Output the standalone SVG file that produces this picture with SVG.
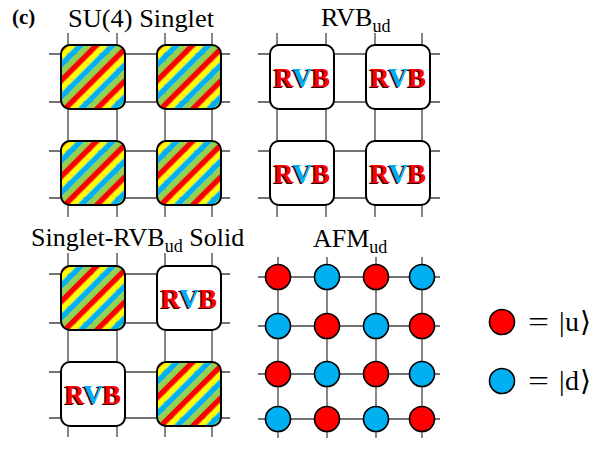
<svg xmlns="http://www.w3.org/2000/svg" width="612" height="450" viewBox="0 0 612 450">
<style>
.t{font-family:"Liberation Serif","DejaVu Serif",serif;font-size:26px;fill:#000}
.lg{font-size:28px}
.sub{font-size:18px}
.grid line{stroke:#444;stroke-width:1.3}
.box{stroke:#000;stroke-width:2}
.rvb{font-family:"Liberation Serif",serif;font-weight:bold;font-size:27px;text-anchor:middle}
.sh{fill:#300}
.r{fill:#ff0000}
.b{fill:#00b0f0}
.dot{stroke:#000;stroke-width:1.6}
</style>
<defs>
<pattern id="stripes" patternUnits="userSpaceOnUse" width="22.627" height="22.627" patternTransform="rotate(45)">
<rect x="0" y="0" width="5.657" height="22.627" fill="#ff0000"/>
<rect x="5.657" y="0" width="5.657" height="22.627" fill="#ffff00"/>
<rect x="11.314" y="0" width="5.657" height="22.627" fill="#00b0f0"/>
<rect x="16.971" y="0" width="5.657" height="22.627" fill="#92d050"/>
</pattern>
<g id="sbox"><rect class="box" x="0" y="0" width="64" height="64" rx="9" fill="url(#stripes)"/></g>
<g id="rbox"><rect class="box" x="0" y="0" width="64" height="64" rx="9" fill="#fff"/>
<text class="rvb sh" x="30.6" y="42.5">RVB</text>
<text class="rvb" x="32" y="42"><tspan class="r">R</tspan><tspan class="b">V</tspan><tspan class="r">B</tspan></text></g>
</defs>
<rect width="612" height="450" fill="#fff"/>

<g id="labels">
<text x="12" y="24" font-family="Liberation Serif,serif" font-weight="bold" font-size="21">(c)</text>
<text class="t" x="68" y="27" textLength="146" lengthAdjust="spacingAndGlyphs">SU(4) Singlet</text>
<text class="t" x="321" y="26">RVB<tspan class="sub" dy="6">ud</tspan></text>
<text class="t" x="31" y="246">Singlet-RVB<tspan class="sub" dy="6">ud</tspan><tspan dy="-6"> Solid</tspan></text>
<text class="t" x="313" y="247">AFM<tspan class="sub" dy="6">ud</tspan></text>
</g>

<g id="connectors" class="grid">
<line x1="49" y1="54" x2="230" y2="54"/><line x1="49" y1="102" x2="230" y2="102"/>
<line x1="49" y1="151" x2="230" y2="151"/><line x1="49" y1="198" x2="230" y2="198"/>
<line x1="68" y1="33" x2="68" y2="217"/><line x1="117" y1="33" x2="117" y2="217"/>
<line x1="165" y1="33" x2="165" y2="217"/><line x1="212" y1="33" x2="212" y2="217"/>
<line x1="258" y1="54" x2="440" y2="54"/><line x1="258" y1="102" x2="440" y2="102"/>
<line x1="258" y1="151" x2="440" y2="151"/><line x1="258" y1="198" x2="440" y2="198"/>
<line x1="277" y1="33" x2="277" y2="217"/><line x1="326" y1="33" x2="326" y2="217"/>
<line x1="375" y1="33" x2="375" y2="217"/><line x1="422" y1="33" x2="422" y2="217"/>
<line x1="49" y1="274" x2="230" y2="274"/><line x1="49" y1="323" x2="230" y2="323"/>
<line x1="49" y1="372" x2="230" y2="372"/><line x1="49" y1="418" x2="230" y2="418"/>
<line x1="68" y1="253" x2="68" y2="437"/><line x1="117" y1="253" x2="117" y2="437"/>
<line x1="165" y1="253" x2="165" y2="437"/><line x1="212" y1="253" x2="212" y2="437"/>
<line x1="258" y1="277" x2="440" y2="277"/><line x1="258" y1="326" x2="440" y2="326"/>
<line x1="258" y1="374" x2="440" y2="374"/><line x1="258" y1="419" x2="440" y2="419"/>
<line x1="278" y1="257" x2="278" y2="438"/><line x1="327" y1="257" x2="327" y2="438"/>
<line x1="376" y1="257" x2="376" y2="438"/><line x1="422" y1="257" x2="422" y2="438"/>
</g>

<g id="su4-1"><use href="#sbox" transform="translate(61,45)"/></g>
<g id="su4-2"><use href="#sbox" transform="translate(157,45)"/></g>
<g id="su4-3"><use href="#sbox" transform="translate(61,141)"/></g>
<g id="su4-4"><use href="#sbox" transform="translate(157,141)"/></g>

<g id="rvb-1"><use href="#rbox" transform="translate(270,45)"/></g>
<g id="rvb-2"><use href="#rbox" transform="translate(366,45)"/></g>
<g id="rvb-3"><use href="#rbox" transform="translate(270,141)"/></g>
<g id="rvb-4"><use href="#rbox" transform="translate(366,141)"/></g>

<g id="solid-1"><use href="#sbox" transform="translate(61,266)"/></g>
<g id="solid-2"><use href="#rbox" transform="translate(157,266)"/></g>
<g id="solid-3"><use href="#rbox" transform="translate(61,362)"/></g>
<g id="solid-4"><use href="#sbox" transform="translate(157,362)"/></g>

<g id="afm">
<circle class="dot r" cx="278" cy="277" r="12.5"/><circle class="dot b" cx="327" cy="277" r="12.5"/>
<circle class="dot r" cx="376" cy="277" r="12.5"/><circle class="dot b" cx="422" cy="277" r="12.5"/>
<circle class="dot b" cx="278" cy="326" r="12.5"/><circle class="dot r" cx="327" cy="326" r="12.5"/>
<circle class="dot b" cx="376" cy="326" r="12.5"/><circle class="dot r" cx="422" cy="326" r="12.5"/>
<circle class="dot r" cx="278" cy="374" r="12.5"/><circle class="dot b" cx="327" cy="374" r="12.5"/>
<circle class="dot r" cx="376" cy="374" r="12.5"/><circle class="dot b" cx="422" cy="374" r="12.5"/>
<circle class="dot b" cx="278" cy="419" r="12.5"/><circle class="dot r" cx="327" cy="419" r="12.5"/>
<circle class="dot b" cx="376" cy="419" r="12.5"/><circle class="dot r" cx="422" cy="419" r="12.5"/>
</g>

<g id="legend-u">
<circle class="dot r" cx="502" cy="322" r="12.5"/>
<text class="t lg" x="528" y="331" textLength="21" lengthAdjust="spacingAndGlyphs">=</text>
<text class="t lg" x="559 565 580" y="331">|u⟩</text>
</g>
<g id="legend-d">
<circle class="dot b" cx="502" cy="381" r="12.5"/>
<text class="t lg" x="528" y="390" textLength="21" lengthAdjust="spacingAndGlyphs">=</text>
<text class="t lg" x="559 565 580" y="390">|d⟩</text>
</g>
</svg>
